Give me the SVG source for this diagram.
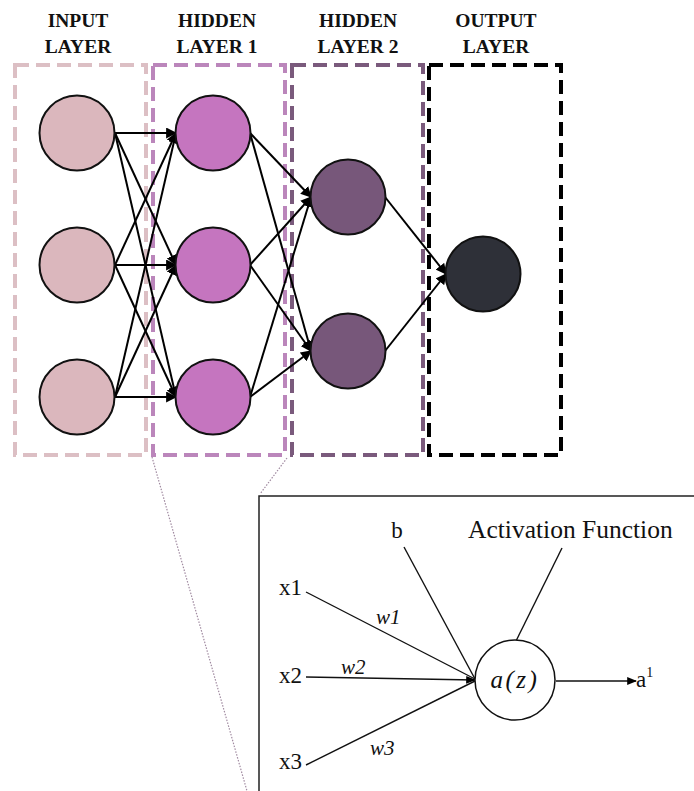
<svg xmlns="http://www.w3.org/2000/svg" width="694" height="791" viewBox="0 0 694 791">
<style>
.lbl{font-family:"Liberation Serif","Times New Roman",serif;font-weight:bold;font-size:19.5px;text-anchor:middle;fill:#111}
.box{fill:none;stroke-width:4;stroke-dasharray:14 7}
.nd{stroke:#111;stroke-width:2}
.cn{stroke:#000;stroke-width:2;fill:none}
.tx{font-family:"Liberation Serif","Times New Roman",serif;fill:#111}
.dot{stroke:#a08aa0;stroke-width:1.2;stroke-dasharray:1.5 1.5;fill:none}
</style>
<defs>
<marker id="ah" viewBox="0 0 10 10" refX="9" refY="5" markerWidth="5.5" markerHeight="5.5" orient="auto" markerUnits="strokeWidth">
<path d="M0,0 L10,5 L0,10 z" fill="#000"/>
</marker>
<marker id="ah2" viewBox="0 0 10 10" refX="9" refY="5" markerWidth="7" markerHeight="7" orient="auto" markerUnits="strokeWidth">
<path d="M0,1 L10,5 L0,9 z" fill="#000"/>
</marker>
</defs>
<rect width="694" height="791" fill="#fff"/>

<g id="labels">
<text class="lbl" x="78" y="27">INPUT</text>
<text class="lbl" x="78" y="53">LAYER</text>
<text class="lbl" x="217" y="27">HIDDEN</text>
<text class="lbl" x="217" y="53">LAYER 1</text>
<text class="lbl" x="358" y="27">HIDDEN</text>
<text class="lbl" x="358" y="53">LAYER 2</text>
<text class="lbl" x="496" y="27">OUTPUT</text>
<text class="lbl" x="496" y="53">LAYER</text>
</g>

<g id="layer-boxes">
<rect id="box-input" class="box" x="15" y="65" width="131" height="390" stroke="#dcbfc4"/>
<rect id="box-hidden1" class="box" x="153" y="65" width="132" height="390" stroke="#bb86bb"/>
<rect id="box-hidden2" class="box" x="292" y="65" width="131" height="390" stroke="#7a5a7c"/>
<rect id="box-output" class="box" x="429" y="65" width="132" height="390" stroke="#000"/>
</g>

<g id="zoom-lines">
<line class="dot" x1="152" y1="457" x2="247" y2="791"/>
<line class="dot" x1="287" y1="458" x2="260" y2="494"/>
</g>

<g id="connectors">
<line class="cn" x1="115" y1="133" x2="176" y2="133" marker-end="url(#ah)"/>
<line class="cn" x1="115" y1="133" x2="176" y2="265" marker-end="url(#ah)"/>
<line class="cn" x1="115" y1="133" x2="176" y2="397" marker-end="url(#ah)"/>
<line class="cn" x1="115" y1="265" x2="176" y2="133" marker-end="url(#ah)"/>
<line class="cn" x1="115" y1="265" x2="176" y2="265" marker-end="url(#ah)"/>
<line class="cn" x1="115" y1="265" x2="176" y2="397" marker-end="url(#ah)"/>
<line class="cn" x1="115" y1="397" x2="176" y2="133" marker-end="url(#ah)"/>
<line class="cn" x1="115" y1="397" x2="176" y2="265" marker-end="url(#ah)"/>
<line class="cn" x1="115" y1="397" x2="176" y2="397" marker-end="url(#ah)"/>
<line class="cn" x1="250" y1="133" x2="311" y2="197" marker-end="url(#ah)"/>
<line class="cn" x1="250" y1="133" x2="311" y2="351" marker-end="url(#ah)"/>
<line class="cn" x1="250" y1="265" x2="311" y2="197" marker-end="url(#ah)"/>
<line class="cn" x1="250" y1="265" x2="311" y2="351" marker-end="url(#ah)"/>
<line class="cn" x1="250" y1="397" x2="311" y2="197" marker-end="url(#ah)"/>
<line class="cn" x1="250" y1="397" x2="311" y2="351" marker-end="url(#ah)"/>
<line class="cn" x1="385" y1="197" x2="446" y2="274" marker-end="url(#ah)"/>
<line class="cn" x1="385" y1="351" x2="446" y2="274" marker-end="url(#ah)"/>
</g>

<g id="input-layer">
<circle id="in1" class="nd" cx="77" cy="133" r="37.5" fill="#dbb7bd"/>
<circle id="in2" class="nd" cx="77" cy="265" r="37.5" fill="#dbb7bd"/>
<circle id="in3" class="nd" cx="77" cy="397" r="37.5" fill="#dbb7bd"/>
</g>
<g id="hidden-layer-1">
<circle id="h1a" class="nd" cx="213" cy="133" r="37.5" fill="#c575bf"/>
<circle id="h1b" class="nd" cx="213" cy="265" r="37.5" fill="#c575bf"/>
<circle id="h1c" class="nd" cx="213" cy="397" r="37.5" fill="#c575bf"/>
</g>
<g id="hidden-layer-2">
<circle id="h2a" class="nd" cx="348" cy="197" r="37.5" fill="#77577a"/>
<circle id="h2b" class="nd" cx="348" cy="351" r="37.5" fill="#77577a"/>
</g>
<g id="output-layer">
<circle id="out" class="nd" cx="483" cy="274" r="37.5" fill="#2e3038"/>
</g>

<g id="detail-panel">
<path d="M259,791 L259,496 L694,496" fill="none" stroke="#222" stroke-width="1.5"/>
</g>

<g id="detail-connectors">
<line x1="306" y1="592" x2="475" y2="679" stroke="#111" stroke-width="1.4"/>
<line x1="306" y1="677" x2="475" y2="680" stroke="#111" stroke-width="1.4" marker-end="url(#ah2)"/>
<line x1="306" y1="765" x2="475" y2="681" stroke="#111" stroke-width="1.4"/>
<line x1="404" y1="547" x2="475" y2="679" stroke="#111" stroke-width="1.4"/>
<line x1="562" y1="548" x2="516" y2="641" stroke="#111" stroke-width="1.4"/>
<line x1="556" y1="681" x2="636" y2="681" stroke="#111" stroke-width="1.4" marker-end="url(#ah2)"/>
</g>

<g id="neuron">
<circle cx="515" cy="680" r="40" fill="#fff" stroke="#111" stroke-width="1.5"/>
<text class="tx" x="515" y="688" font-size="25" font-style="italic" text-anchor="middle" letter-spacing="2.5">a(z)</text>
</g>

<g id="detail-labels">
<text class="tx" x="279" y="595" font-size="23">x1</text>
<text class="tx" x="279" y="683" font-size="23">x2</text>
<text class="tx" x="279" y="769" font-size="23">x3</text>
<text class="tx" x="397" y="538" font-size="23" text-anchor="middle">b</text>
<text class="tx" x="468" y="538" font-size="25.5">Activation Function</text>
<text class="tx" x="376" y="624" font-size="21" font-style="italic">w1</text>
<text class="tx" x="341" y="674" font-size="21" font-style="italic">w2</text>
<text class="tx" x="370" y="755" font-size="21" font-style="italic">w3</text>
<text class="tx" x="636" y="687" font-size="23">a<tspan font-size="14" dy="-10">1</tspan></text>
</g>
</svg>
